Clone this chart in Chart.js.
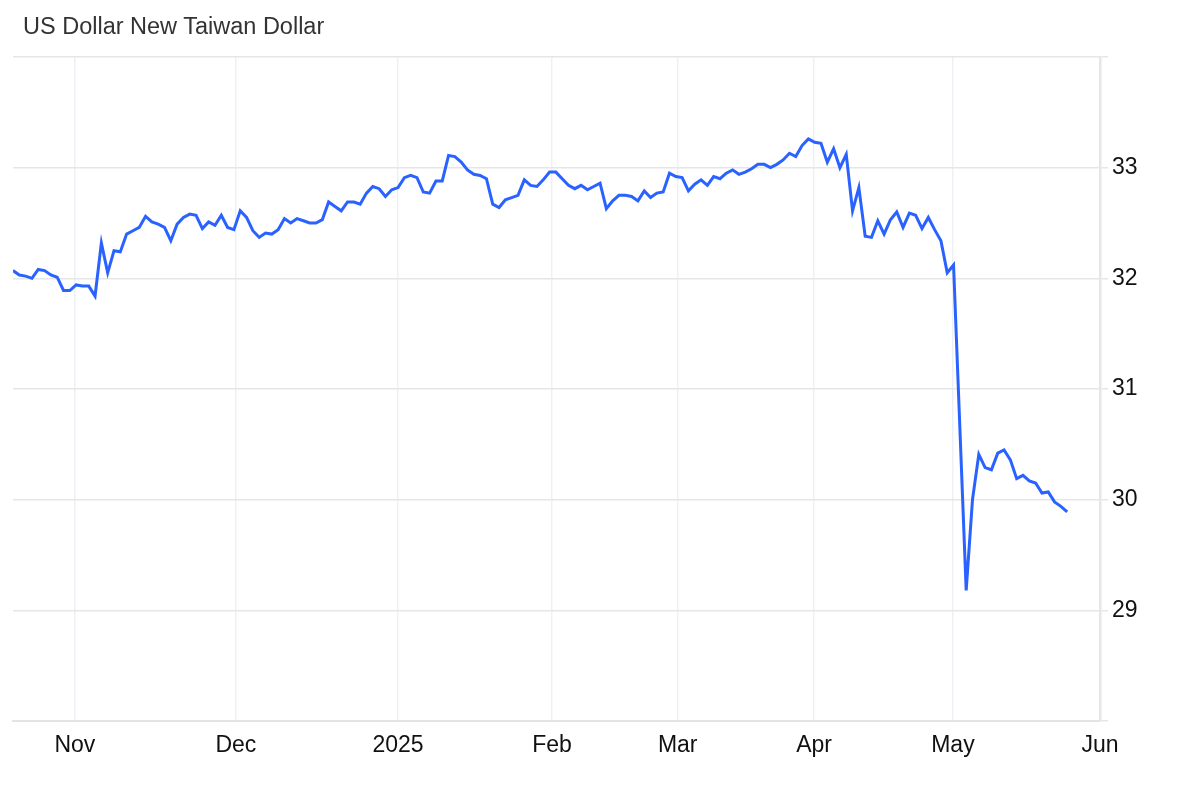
<!DOCTYPE html>
<html>
<head>
<meta charset="utf-8">
<script src="https://cdn.jsdelivr.net/npm/chart.js@4"></script>
<style>
  html, body { margin: 0; padding: 0; background: #ffffff; }
  #wrap { position: relative; width: 1200px; height: 787px; }
  #title { position: absolute; left: 23px; top: 12px; font-family: "Liberation Sans", Arial, sans-serif; font-size: 23.5px; color: #333333; line-height: 28px; white-space: nowrap; }
  canvas { position: absolute; left: 0; top: 0; }
</style>
</head>
<body>
<div id="wrap">
  <canvas id="c" width="1200" height="787"></canvas>
  <div id="title">US Dollar New Taiwan Dollar</div>
</div>
<script>
// Exchange rate (TWD per USD), evenly spaced observations
const rates = [
  32.07, 32.03, 32.02, 32.00, 32.08, 32.07, 32.03, 32.01, 31.89, 31.89,
  31.94, 31.93, 31.93, 31.84, 32.32, 32.05, 32.25, 32.24, 32.40, 32.43,
  32.46, 32.56, 32.51, 32.49, 32.46, 32.34, 32.49, 32.55, 32.58, 32.57,
  32.45, 32.51, 32.48, 32.57, 32.46, 32.44, 32.61, 32.55, 32.43, 32.37,
  32.41, 32.40, 32.44, 32.54, 32.50, 32.54, 32.52, 32.50, 32.50, 32.53,
  32.69, 32.65, 32.61, 32.69, 32.69, 32.67, 32.77, 32.83, 32.81, 32.74,
  32.80, 32.82, 32.91, 32.93, 32.91, 32.78, 32.77, 32.88, 32.88, 33.11,
  33.10, 33.05, 32.98, 32.94, 32.93, 32.90, 32.67, 32.64, 32.71, 32.73,
  32.75, 32.89, 32.84, 32.83, 32.89, 32.96, 32.96, 32.90, 32.84, 32.81,
  32.84, 32.80, 32.83, 32.86, 32.63, 32.70, 32.75, 32.75, 32.74, 32.70,
  32.79, 32.73, 32.77, 32.78, 32.95, 32.92, 32.91, 32.79, 32.85, 32.89,
  32.84, 32.92, 32.90, 32.95, 32.98, 32.94, 32.96, 32.99, 33.03, 33.03,
  33.00, 33.03, 33.07, 33.13, 33.10, 33.20, 33.26, 33.23, 33.22, 33.05,
  33.17, 33.00, 33.12, 32.61, 32.82, 32.38, 32.37, 32.52, 32.40, 32.53,
  32.60, 32.46, 32.59, 32.57, 32.45, 32.55, 32.44, 32.34, 32.05, 32.12,
  30.65, 29.18, 30.00, 30.41, 30.29, 30.27, 30.42, 30.45, 30.36, 30.19,
  30.22, 30.17, 30.15, 30.06, 30.07, 29.98, 29.94, 29.89
];
// Month boundaries, expressed as positions along the observation index
const monthLabels = ['Nov', 'Dec', '2025', 'Feb', 'Mar', 'Apr', 'May', 'Jun'];
const monthPositions = [9.8, 35.3, 61.0, 85.4, 105.3, 126.9, 148.9, 172.2];
// Value axis
const yTickValues = [28, 29, 30, 31, 32, 33, 34];
const yTickShown = [29, 30, 31, 32, 33];

const points = rates.map((v, i) => ({ x: i, y: v }));
const FONT = '"Liberation Sans", Arial, sans-serif';

new Chart(document.getElementById('c'), {
  type: 'line',
  data: {
    datasets: [{
      data: points,
      borderColor: '#2962ff',
      borderWidth: 3,
      pointRadius: 0,
      tension: 0,
      fill: false
    }]
  },
  options: {
    responsive: false,
    animation: false,
    layout: { padding: { top: 57, left: 13, right: 0, bottom: 0 } },
    plugins: { legend: { display: false }, tooltip: { enabled: false }, title: { display: false } },
    scales: {
      x: {
        type: 'linear',
        min: 0,
        max: monthPositions[monthPositions.length - 1],
        afterBuildTicks: (s) => { s.ticks = monthPositions.map(v => ({ value: v })); },
        afterFit: (s) => { s.height = 66; },
        grid: { color: '#edf1f6', lineWidth: 1.5, drawTicks: false },
        border: { color: '#e4e4e4', width: 2 },
        ticks: {
          padding: 11,
          color: '#111111',
          font: { family: FONT, size: 23 },
          maxRotation: 0,
          autoSkip: false,
          callback: (v) => {
            const k = monthPositions.findIndex(p => Math.abs(p - v) < 1e-6);
            return k >= 0 ? monthLabels[k] : '';
          }
        }
      },
      y: {
        position: 'right',
        min: yTickValues[0],
        max: yTickValues[yTickValues.length - 1],
        afterBuildTicks: (s) => { s.ticks = yTickValues.map(v => ({ value: v })); },
        afterFit: (s) => { s.width = 100; },
        grid: { color: '#e6e6e6', lineWidth: 1.5, drawTicks: true, tickLength: 8 },
        border: { color: '#e4e6ea', width: 2.5 },
        ticks: {
          padding: 4,
          color: '#111111',
          font: { family: FONT, size: 23 },
          callback: (v) => yTickShown.includes(v) ? String(v) : ''
        }
      }
    }
  }
});
</script>
</body>
</html>
